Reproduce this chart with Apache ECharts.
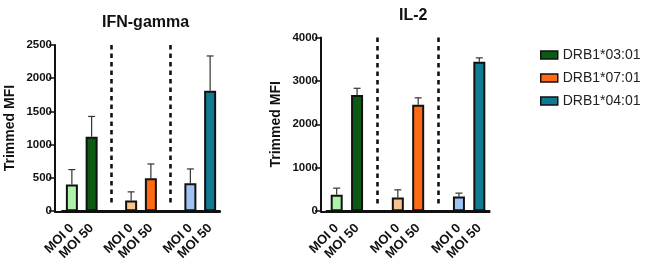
<!DOCTYPE html>
<html>
<head>
<meta charset="utf-8">
<script src="https://cdn.jsdelivr.net/npm/echarts@6/dist/echarts.min.js"></script>
<style>
  html, body { margin: 0; padding: 0; background: #fff; }
  #chart { width: 650px; height: 263px; }
</style>
</head>
<body>
<div id="chart"></div>
<script>
let myChart = echarts.init(document.getElementById('chart'));

// alleles and doses
const alleles = ['DRB1*03:01', 'DRB1*07:01', 'DRB1*04:01'];
const doses = ['MOI 0', 'MOI 50'];
// x categories, the blank slots hold the dashed separators
const xCats = ['MOI 0', 'MOI 50', '', 'MOI 0', 'MOI 50', '', 'MOI 0', 'MOI 50'];

// values, order: 03:01 MOI0, MOI50, 07:01 MOI0, MOI50, 04:01 MOI0, MOI50
const ifnMean = [400, 1120, 160, 495, 420, 1810];
const ifnSd = [225, 305, 130, 215, 215, 525];
const il2Mean = [375, 2675, 315, 2450, 340, 3440];
const il2Sd = [155, 155, 175, 160, 75, 90];

const ifnTicks = { max: 2500, interval: 500 };
const il2Ticks = { max: 4000, interval: 1000 };

// light colour for MOI 0, dark for MOI 50
const lightColors = ['#adf2a8', '#f8c38c', '#9ec3f5'];
const darkColors = ['#0b5c12', '#ff6a12', '#117a93'];

const font = 'Liberation Sans, Arial, sans-serif';

function catIndex(i) {
    let g = Math.floor(i / 2);
    return g * 3 + (i % 2);
}

function barSeries(means, gridIdx) {
    return alleles.map((name, g) => {
        let data = xCats.map(() => '-');
        doses.forEach((d, k) => {
            let i = g * 2 + k;
            data[catIndex(i)] = {
                value: means[i],
                itemStyle: { color: k === 0 ? lightColors[g] : darkColors[g] }
            };
        });
        return {
            name: name,
            type: 'bar',
            xAxisIndex: gridIdx,
            yAxisIndex: gridIdx,
            barWidth: 12,
            barGap: '-100%',
            itemStyle: { color: darkColors[g], borderColor: '#111', borderWidth: 2 },
            data: data,
            z: 3
        };
    });
}

function errSeries(means, sds, gridIdx) {
    return {
        type: 'custom',
        xAxisIndex: gridIdx,
        yAxisIndex: gridIdx,
        z: 2,
        data: means.map((m, i) => [catIndex(i), m, sds[i]]),
        encode: { x: 0, y: 1 },
        renderItem: (params, api) => {
            let x = api.value(0);
            let base = api.coord([x, api.value(1)]);
            let top = api.coord([x, api.value(1) + api.value(2)]);
            let st = { stroke: '#333', lineWidth: 1.2 };
            return {
                type: 'group',
                children: [
                    { type: 'line', shape: { x1: base[0], y1: base[1], x2: top[0], y2: top[1] }, style: st },
                    { type: 'line', shape: { x1: top[0] - 3.5, y1: top[1], x2: top[0] + 3.5, y2: top[1] }, style: st }
                ]
            };
        }
    };
}

function sepSeries(max, gridIdx) {
    let lines = [];
    xCats.forEach((c, k) => {
        if (c === '') lines.push([{ coord: [k, max] }, { coord: [k, max * 0.04] }]);
    });
    return {
        type: 'line',
        xAxisIndex: gridIdx,
        yAxisIndex: gridIdx,
        data: [],
        markLine: {
            silent: true,
            symbol: 'none',
            label: { show: false },
            lineStyle: { color: '#111', width: 2.6, type: [4.5, 4] },
            data: lines
        }
    };
}

function xAxisFor(gridIdx) {
    return {
        type: 'category',
        gridIndex: gridIdx,
        data: xCats,
        axisLine: { lineStyle: { color: '#111', width: 2 } },
        axisTick: {
            alignWithLabel: true,
            length: 6,
            interval: (idx, val) => val !== '',
            lineStyle: { color: '#111', width: 1.5 }
        },
        axisLabel: {
            interval: 0, rotate: 45, margin: 15,
            fontFamily: font, fontWeight: 'bold', fontSize: 13, color: '#111'
        }
    };
}

function yAxisFor(gridIdx, ticks, offset) {
    return {
        type: 'value',
        gridIndex: gridIdx,
        min: 0,
        max: ticks.max,
        interval: ticks.interval,
        offset: offset,
        name: 'Trimmed MFI',
        nameLocation: 'middle',
        nameRotate: 90,
        nameGap: 38,
        nameTextStyle: { fontFamily: font, fontWeight: 'bold', fontSize: 14, color: '#111' },
        splitLine: { show: false },
        axisLine: { show: true, lineStyle: { color: '#111', width: 2 } },
        axisTick: { show: true, length: 6, lineStyle: { color: '#111', width: 1.5 } },
        axisLabel: {
            margin: 3, fontFamily: font, fontWeight: 'bold', fontSize: 11.5, color: '#111',
            formatter: v => String(v)
        }
    };
}

// extra grids only to draw the x axis line up to the y axis
function lineOnlyX(gridIdx) {
    return {
        type: 'category', gridIndex: gridIdx, data: [''],
        axisLine: { lineStyle: { color: '#111', width: 2 } },
        axisTick: { show: false }, axisLabel: { show: false }
    };
}
function hiddenY(gridIdx) {
    return { type: 'value', gridIndex: gridIdx, show: false };
}

myChart.setOption({
    animation: false,
    title: [
        { text: 'IFN-gamma', left: 97, top: 10, textStyle: { fontFamily: font, fontWeight: 'bold', fontSize: 16, color: '#111' } },
        { text: 'IL-2', left: 394, top: 3, textStyle: { fontFamily: font, fontWeight: 'bold', fontSize: 16, color: '#111' } }
    ],
    legend: {
        data: alleles,
        orient: 'vertical',
        left: 535,
        top: 43,
        itemGap: 9,
        itemWidth: 17,
        itemHeight: 8,
        icon: 'rect',
        itemStyle: { borderColor: '#111', borderWidth: 1.5 },
        textStyle: { fontFamily: font, fontSize: 14, color: '#222' }
    },
    grid: [
        { left: 62, top: 45, width: 158, height: 167 },
        { left: 326.5, top: 37.5, width: 163, height: 174 },
        { left: 55, top: 45, width: 165, height: 167 },
        { left: 321, top: 37.5, width: 168.5, height: 174 }
    ],
    xAxis: [xAxisFor(0), xAxisFor(1), lineOnlyX(2), lineOnlyX(3)],
    yAxis: [yAxisFor(0, ifnTicks, 7), yAxisFor(1, il2Ticks, 5.5), hiddenY(2), hiddenY(3)],
    series: [
        ...barSeries(ifnMean, 0),
        ...barSeries(il2Mean, 1),
        errSeries(ifnMean, ifnSd, 0),
        errSeries(il2Mean, il2Sd, 1),
        sepSeries(ifnTicks.max, 0),
        sepSeries(il2Ticks.max, 1)
    ]
});
</script>
</body>
</html>
